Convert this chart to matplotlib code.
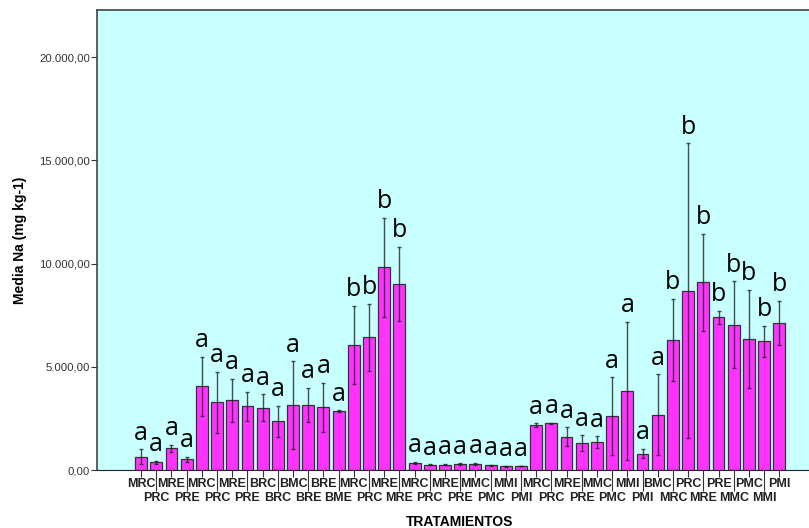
import numpy as np
import matplotlib.pyplot as plt

plt.rcParams['font.family'] = ['Liberation Sans', 'DejaVu Sans']

# tratamientos, in the order they appear on the x axis
labels = ['MRC', 'PRC', 'MRE', 'PRE', 'MRC', 'PRC', 'MRE', 'PRE', 'BRC', 'BRC',
          'BMC', 'BRE', 'BRE', 'BME', 'MRC', 'PRC', 'MRE', 'MRE', 'MRC', 'PRC',
          'MRE', 'PRE', 'MMC', 'PMC', 'MMI', 'PMI', 'MRC', 'PRC', 'MRE', 'PRE',
          'MMC', 'PMC', 'MMI', 'PMI', 'BMC', 'MRC', 'PRC', 'MRE', 'PRE', 'MMC',
          'PMC', 'MMI', 'PMI']

# media Na (mg kg-1)
media = [645, 373, 1050, 518, 4065, 3280, 3390, 3085, 3015, 2360,
         3150, 3150, 3035, 2855, 6070, 6425, 9815, 9010, 355, 250,
         260, 275, 290, 225, 180, 195, 2180, 2260, 1615, 1290,
         1340, 2615, 3825, 790, 2680, 6295, 8680, 9085, 7390, 7035,
         6345, 6230, 7120]

# half width of the error bars
err = [355, 60, 160, 135, 1430, 1490, 1040, 715, 650, 765,
       2110, 830, 1200, 30, 1890, 1630, 2390, 1790, 40, 30,
       40, 50, 40, 30, 20, 20, 80, 40, 445, 390,
       285, 1880, 3355, 225, 1955, 1995, 7140, 2360, 330, 2110,
       2380, 740, 1065]

letras = ['a'] * 14 + ['b'] * 4 + ['a'] * 17 + ['b'] * 8

x = np.arange(len(labels))

fig = plt.figure(figsize=(8.09, 5.28), dpi=100)
ax = fig.add_axes([0.1199, 0.1098, 0.896, 0.871])
ax.set_facecolor('#c8ffff')

ax.bar(x, media, width=0.78, color='#ff33ff', edgecolor='#333333', linewidth=0.9)
ax.errorbar(x, media, yerr=err, fmt='none', ecolor='#222222', elinewidth=1,
            capsize=1.5, capthick=1, alpha=0.8)

for xi, m, e, l in zip(x, media, err, letras):
    ax.annotate(l, (xi, m + e), xytext=(0, 7), textcoords='offset points',
                ha='center', va='baseline', fontsize=18, family='Open Sans')

ax.set_xlim(-2.9, 44.8)
ax.set_ylim(0, 22276)

yt = [0, 5000, 10000, 15000, 20000]
ax.set_yticks(yt)
ax.set_yticklabels(['{:,.2f}'.format(v).replace(',', 'X').replace('.', ',').replace('X', '.')
                    for v in yt], fontsize=8.2, color='#333333')
ax.tick_params(axis='y', length=4, width=0.8, color='#333333', pad=1)

# staggered x labels: even ones on the upper row, odd ones on the lower row
ax.set_xticks(x[::2])
ax.set_xticklabels(labels[::2], fontsize=9, fontweight='bold', color='#222222')
ax.set_xticks(x[1::2], minor=True)
ax.set_xticklabels(labels[1::2], minor=True, fontsize=9, fontweight='bold', color='#222222')
ax.tick_params(axis='x', which='major', length=5, width=0.8, color='#333333', pad=1)
ax.tick_params(axis='x', which='minor', length=15, width=0.8, color='#333333', pad=1)

for s in ['left', 'top']:
    ax.spines[s].set_color('#444444')
    ax.spines[s].set_linewidth(1.2)
ax.spines['bottom'].set_color('#222222')
ax.spines['right'].set_visible(False)

ax.set_ylabel('Media Na (mg kg-1)', fontsize=10, fontweight='bold', labelpad=9)
ax.set_xlabel('TRATAMIENTOS', fontsize=10, fontweight='bold', labelpad=8)

fig.savefig('out.png', dpi=100)
